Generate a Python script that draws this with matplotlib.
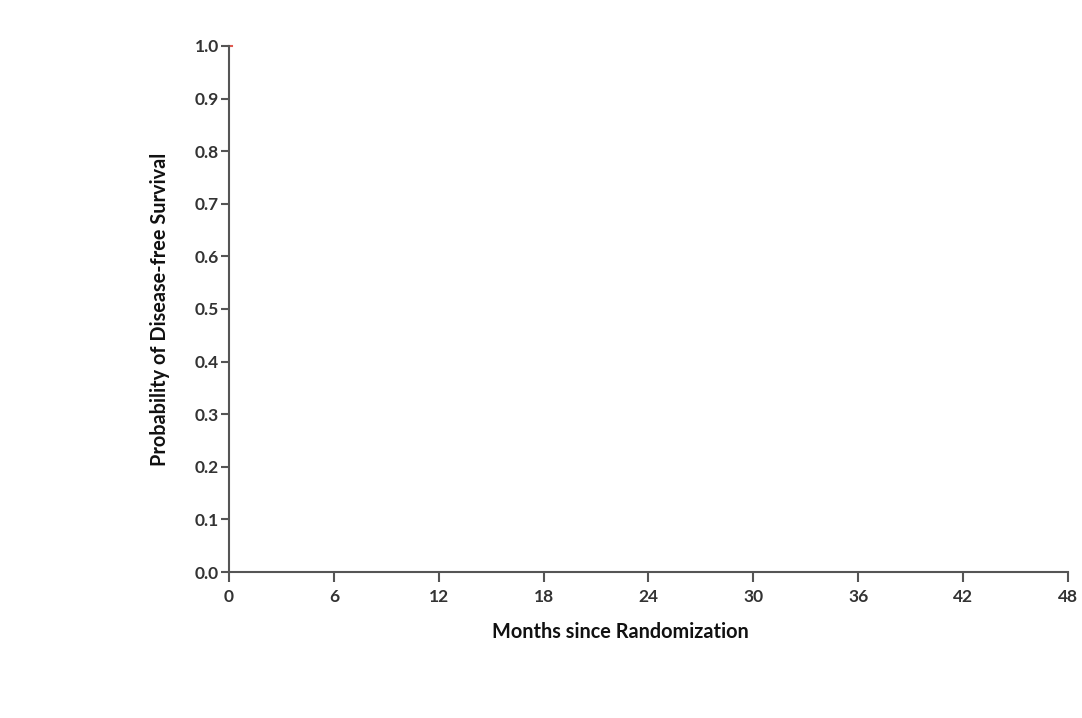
import matplotlib
matplotlib.use("Agg")
import matplotlib.pyplot as plt

# datos visibles de la curva (solo el arranque en t=0)
meses = [0.0, 0.15]
supervivencia = [1.0, 1.0]

xticks = [0, 6, 12, 18, 24, 30, 36, 42, 48]
yticks = [0.0, 0.1, 0.2, 0.3, 0.4, 0.5, 0.6, 0.7, 0.8, 0.9, 1.0]

plt.rcParams['font.family'] = ['Lato', 'DejaVu Sans']

fig = plt.figure(figsize=(10.82, 7.18), dpi=100)
ax = fig.add_axes([0.2116, 0.2033, 0.987 - 0.2116, 0.936 - 0.2033])

ax.step(meses, supervivencia, where='post', color='#e05a50', lw=1.5, clip_on=False)

ax.set_xlim(0, 48)
ax.set_ylim(0, 1.0)
ax.set_xticks(xticks)
ax.set_yticks(yticks)
ax.set_yticklabels(['%.1f' % v for v in yticks])

for s in ['top', 'right']:
    ax.spines[s].set_visible(False)
for s in ['left', 'bottom']:
    ax.spines[s].set_color('#555555')
    ax.spines[s].set_linewidth(1.5)

ax.tick_params(axis='both', direction='out', color='#555555', width=1.5,
               labelsize=12.5, labelcolor='#333333')
ax.tick_params(axis='x', length=7, pad=5)
ax.tick_params(axis='y', length=6, pad=1)
for lbl in ax.get_xticklabels() + ax.get_yticklabels():
    lbl.set_fontweight('bold')

ax.set_xlabel('Months since Randomization', fontsize=14.3, fontweight='bold',
              color='#111111')
ax.xaxis.set_label_coords(0.467, -0.095)
ax.set_ylabel('Probability of Disease-free Survival', fontsize=14.3,
              fontweight='bold', color='#111111', labelpad=18)

fig.savefig('out.png', dpi=100)
